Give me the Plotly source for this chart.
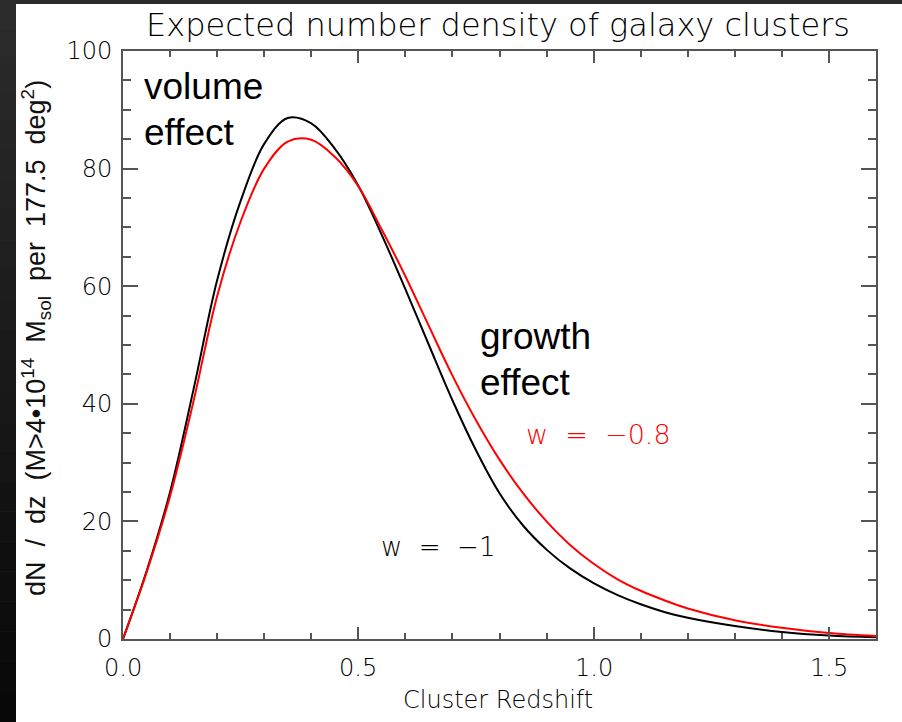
import plotly.graph_objects as go

# Cluster redshift grid and expected dN/dz for two dark-energy equations of state
redshift = [0, 0.05, 0.1, 0.15, 0.2, 0.25, 0.3, 0.35, 0.4, 0.45, 0.5, 0.55, 0.6, 0.65,
            0.7, 0.75, 0.8, 0.85, 0.9, 0.95, 1.0, 1.05, 1.1, 1.15, 1.2, 1.3, 1.4, 1.5, 1.6]
dndz_w_m1 = [0, 11.5, 25, 42.5, 61, 74.5, 84.2, 88.6, 87.7, 83.4, 77.1, 68.7, 59.5, 50.0,
             40.6, 32.1, 24.8, 19.3, 15.2, 12.0, 9.5, 7.5, 5.9, 4.6, 3.6, 2.2, 1.2, 0.6, 0.3]
dndz_w_m08 = [0, 11.3, 24.3, 40.5, 58.3, 71, 80, 84.6, 84.9, 82, 77, 69.6, 61.7, 53.2,
              44.8, 37.2, 30.5, 24.8, 20.0, 16.0, 12.8, 10.2, 8.2, 6.6, 5.2, 3.2, 1.9, 1.0, 0.5]

x_tickvals = [0, 0.5, 1.0, 1.5]
x_ticktext = ["0.0", "0.5", "1.0", "1.5"]
y_tickvals = [0, 20, 40, 60, 80, 100]
y_ticktext = ["0", "20", "40", "60", "80", "100"]

W, H = 902, 722
L, R, T, B = 123, 26, 51, 83
PW, PH = W - L - R, H - T - B

STROKE = "DejaVu Sans"
THIN = 200
SANS = "Liberation Sans, Arial, sans-serif"
AXC = "#555555"
INK = "#000000"


def px_to_paper_x(px):
    return (px - L) / PW


def px_to_paper_y(py):
    return (H - B - py) / PH


fig = go.Figure()
fig.add_trace(go.Scatter(x=redshift, y=dndz_w_m1, mode="lines", line_shape="spline",
                         line=dict(color="black", width=2), name="w = -1"))
fig.add_trace(go.Scatter(x=redshift, y=dndz_w_m08, mode="lines", line_shape="spline",
                         line=dict(color="#ff0000", width=2), name="w = -0.8"))

# dark frame with a graded left strip behind the white panel
shapes = [dict(type="rect", xref="paper", yref="paper",
               x0=px_to_paper_x(0), x1=px_to_paper_x(W), y0=px_to_paper_y(H), y1=px_to_paper_y(0),
               fillcolor="#2a2a2a", line_width=0, layer="below")]
n = 24
for i in range(n):
    g = int(0x2c - (0x2c - 0x08) * i / (n - 1))
    shapes.append(dict(type="rect", xref="paper", yref="paper",
                       x0=px_to_paper_x(0), x1=px_to_paper_x(16),
                       y0=px_to_paper_y(H * (i + 1) / n), y1=px_to_paper_y(H * i / n),
                       fillcolor=f"rgb({g},{g},{g})", line_width=0, layer="below"))
shapes.append(dict(type="rect", xref="paper", yref="paper",
                   x0=px_to_paper_x(16), x1=px_to_paper_x(W), y0=px_to_paper_y(H), y1=px_to_paper_y(4),
                   fillcolor="white", line_width=0, layer="below"))


def word(text, x, y):
    return dict(text=text, x=x, y=y, xref="x", yref="y", xanchor="left", yanchor="middle",
                showarrow=False, font=dict(family=SANS, size=37, color="black"))


annotations = [
    word("volume", 0.041, 93.9),
    word("effect", 0.041, 86.2),
    word("growth", 0.755, 51.4),
    word("effect", 0.755, 43.7),
    dict(text="w  =  \u22120.8", x=0.852, y=34.7, xref="x", yref="y", xanchor="left",
         yanchor="middle", showarrow=False,
         font=dict(family=STROKE, size=27, color="#ff0000", weight=THIN)),
    dict(text="w  =  \u22121", x=0.544, y=15.6, xref="x", yref="y", xanchor="left",
         yanchor="middle", showarrow=False,
         font=dict(family=STROKE, size=26, color=INK, weight=THIN)),
    dict(text="Cluster Redshift", x=px_to_paper_x(498), y=px_to_paper_y(700), xref="paper",
         yref="paper", xanchor="center", yanchor="middle", showarrow=False,
         font=dict(family=STROKE, size=24, color=INK, weight=THIN)),
    dict(text="dN  /  dz  (M>4\u202210<sup>14</sup>  M<sub>sol</sub>  per  177.5  deg<sup>2</sup>)",
         x=px_to_paper_x(36), y=px_to_paper_y(338), xref="paper", yref="paper",
         xanchor="center", yanchor="middle", textangle=-90, showarrow=False,
         font=dict(family=SANS, size=27, color="#111111")),
]
# redshift tick labels set below the axis
for val, txt in zip(x_tickvals, x_ticktext):
    annotations.append(dict(text=txt, x=val, y=px_to_paper_y(668), xref="x", yref="paper",
                            xanchor="center", yanchor="middle", showarrow=False,
                            font=dict(family=STROKE, size=24, color=INK, weight=THIN)))

fig.update_layout(
    width=W, height=H,
    margin=dict(l=L, r=R, t=T, b=B),
    paper_bgcolor="#2a2a2a", plot_bgcolor="white",
    showlegend=False,
    shapes=shapes, annotations=annotations,
    title=dict(text="Expected number density of galaxy clusters", x=498 / W, xref="container",
               y=1 - 25 / H, yref="container", xanchor="center", yanchor="middle",
               font=dict(family=STROKE, size=32, color=INK, weight=THIN)),
)

fig.update_xaxes(range=[0, 1.6], tickmode="array", tickvals=x_tickvals, ticktext=x_ticktext,
                 ticks="inside", ticklen=12, tickwidth=1.5, tickcolor=AXC,
                 showline=True, linecolor=AXC, linewidth=2, mirror="ticks",
                 showgrid=False, zeroline=False, showticklabels=False, automargin=False,
                 minor=dict(ticks="inside", ticklen=6, tickwidth=1.5, tickcolor=AXC,
                            tick0=0, dtick=0.1, showgrid=False))
fig.update_yaxes(range=[0, 100], tickmode="array", tickvals=y_tickvals, ticktext=y_ticktext,
                 ticks="inside", ticklen=15, tickwidth=1.5, tickcolor=AXC,
                 showline=True, linecolor=AXC, linewidth=2, mirror="ticks",
                 showgrid=False, zeroline=False, ticklabelstandoff=4, automargin=False,
                 tickfont=dict(family=STROKE, size=24, color=INK, weight=THIN),
                 minor=dict(ticks="inside", ticklen=8, tickwidth=1.5, tickcolor=AXC,
                            tick0=0, dtick=5, showgrid=False))

fig.write_html("out.html")
